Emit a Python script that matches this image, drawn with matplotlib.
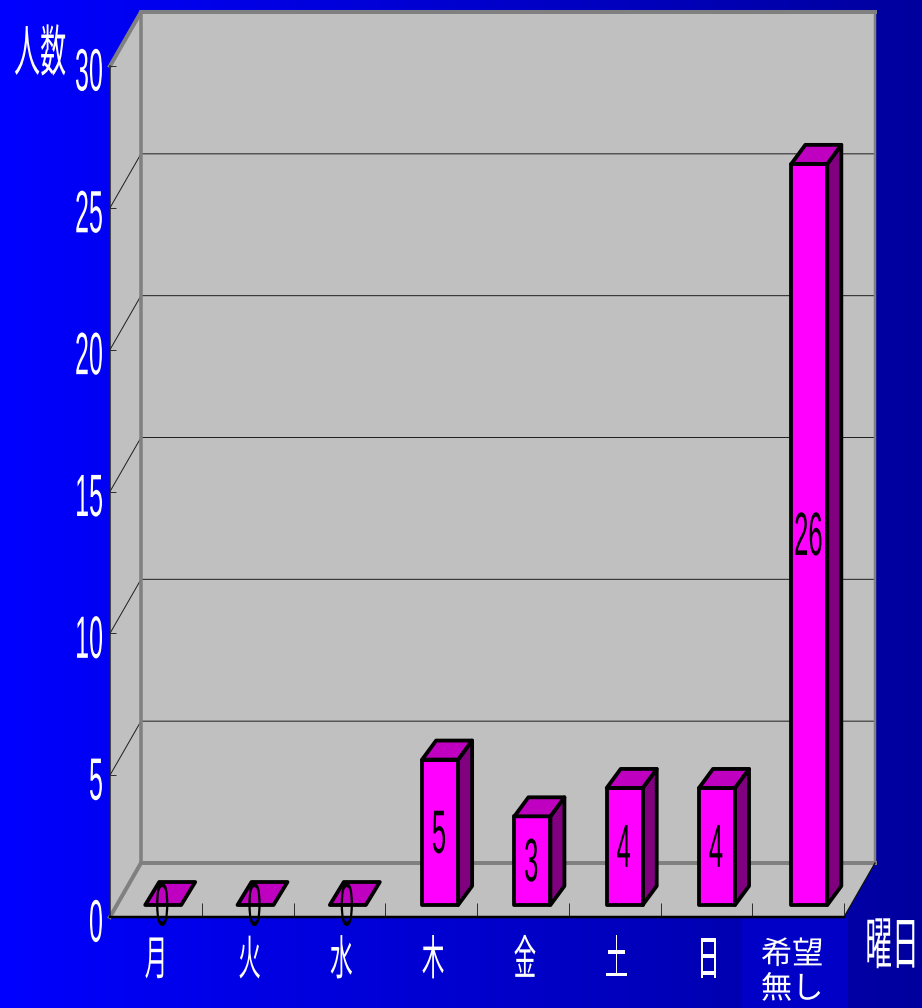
import numpy as np
import matplotlib
matplotlib.use("Agg")
import matplotlib.pyplot as plt
from matplotlib.patches import Polygon, Rectangle
from matplotlib.patheffects import AbstractPathEffect
from matplotlib.transforms import Affine2D

categories = ["月", "火", "水", "木", "金", "土", "日", "希望\n無し"]
values = [0, 0, 0, 5, 3, 4, 4, 26]
y_ticks = [0, 5, 10, 15, 20, 25, 30]

W, H = 922, 1008
FONT = ["Liberation Sans", "Noto Sans CJK JP", "DejaVu Sans"]
WALL = "#c0c0c0"
EDGE = "#808080"


class Condensed(AbstractPathEffect):
    """Squeeze real text horizontally, as the original's stretched labels are."""

    def __init__(self, sx=1.0, anchor=0.5, dx=0.0, dy=0.0):
        super().__init__()
        self.sx, self.anchor, self.dx, self.dy = sx, anchor, dx, dy

    def draw_path(self, renderer, gc, tpath, affine, rgbFace=None):
        ext = affine.transform_path(tpath).get_extents()
        cx = ext.x0 + self.anchor * ext.width
        aff = affine + Affine2D().translate(-cx, 0).scale(self.sx, 1).translate(cx + self.dx, self.dy)
        renderer.draw_path(gc, tpath, aff, rgbFace)


fig = plt.figure(figsize=(W / 100, H / 100), dpi=100)

# background gradient
bg = fig.add_axes([0, 0, 1, 1], zorder=-1)
bg.axis("off")
grad = np.zeros((2, 256, 3))
grad[:, :, 2] = np.linspace(1.0, 0.62, 256)
bg.imshow(grad, aspect="auto", extent=[0, 1, 0, 1], interpolation="bilinear")
bg.add_patch(Rectangle((742 / W, 0), 106 / W, 91 / H, color="#0000c6", lw=0))
bg.set_xlim(0, 1)
bg.set_ylim(0, 1)

# front plane of the 3-D chart box
L, R, T, B = 110, 844, 66, 917
ax = fig.add_axes([L / W, 1 - B / H, (R - L) / W, (B - T) / H])
ax.patch.set_visible(False)
ax.set_xlim(0, len(categories))
ax.set_ylim(0, 30)
ux = (R - L) / len(categories)   # pixels per category
uy = (B - T) / 30                # pixels per value unit
px = 0.72                        # points per pixel at dpi 100

DX, DY = 31 / ux, 54 / uy
n = len(categories)

# walls
ax.add_patch(Polygon([(0, 0), (0, 30), (DX, 30 + DY), (n + DX, 30 + DY), (n + DX, DY), (n, 0)],
                     closed=True, fc=WALL, ec="none", clip_on=False, zorder=1))
# gridlines
for v in y_ticks[1:-1]:
    ax.plot([0, DX, n + DX], [v, v + DY, v + DY], color="#202020", lw=1 * px, clip_on=False, zorder=1.2)
# box edges
ax.plot([DX, DX], [DY, 30 + DY], color=EDGE, lw=3.5 * px, clip_on=False, zorder=1.3)
ax.plot([0, DX, n + DX], [30, 30 + DY, 30 + DY], color=EDGE, lw=4 * px, clip_on=False, zorder=1.3, solid_joinstyle="miter")
ax.plot([n + DX, n + DX], [DY, 30 + DY], color=EDGE, lw=2.5 * px, clip_on=False, zorder=1.3)
ax.plot([0, DX, n + DX], [0, DY, DY], color=EDGE, lw=4 * px, clip_on=False, zorder=1.3, solid_joinstyle="miter")
ax.plot([n, n + DX], [0, DY], color="#101010", lw=1.2 * px, clip_on=False, zorder=1.3)

# bars
BASE = 12 / uy          # bar foot sits slightly behind the front plane
LIFT = 0.55
FIRST = 0.58            # centre of the first bar, in categories
PITCH = 1.006           # bar spacing, in categories
HALF = 18 / ux
BDX = 14 / ux
for i, v in enumerate(values):
    c = FIRST + PITCH * i
    x0, x1 = c - HALF, c + HALF
    top = v + LIFT if v > 0 else BASE
    bdy = (19 if v > 0 else 23) / uy
    style = dict(ec="black", lw=3.8 * px, joinstyle="round", clip_on=False, zorder=4)
    if v > 0:
        ax.add_patch(Polygon([(x1, BASE), (x1 + BDX, BASE + bdy), (x1 + BDX, top + bdy), (x1, top)],
                             fc="#800080", **style))
        ax.add_patch(Rectangle((x0, BASE), x1 - x0, top - BASE, fc="#ff00ff", **style))
    ax.add_patch(Polygon([(x0, top), (x0 + BDX, top + bdy), (x1 + BDX, top + bdy), (x1, top)],
                         fc="#c000c0", **style))
    t = ax.text(c, (BASE + top) / 2, str(v), ha="center", va="center", color="black",
                fontsize=44, family=FONT, clip_on=False, zorder=6)
    t.set_path_effects([Condensed(0.42, dx=-1, dy=-5)])

# axes
for s in ("top", "right"):
    ax.spines[s].set_visible(False)
ax.spines["left"].set_color("#202020")
ax.spines["left"].set_linewidth(1.5 * px)
ax.spines["left"].set_zorder(2)
ax.spines["bottom"].set_color("black")
ax.spines["bottom"].set_linewidth(2.5 * px)
ax.spines["bottom"].set_zorder(2)

ax.set_yticks(y_ticks)
ax.set_yticklabels([str(v) for v in y_ticks], fontsize=43, family=FONT, color="white")
ax.tick_params(axis="y", direction="in", length=6 * px, width=1 * px, color="#303030", pad=4)
for lab in ax.get_yticklabels():
    lab.set_path_effects([Condensed(0.42, anchor=1.0, dy=-3)])

ax.set_xticks(np.arange(1, n + 1))
ax.set_xticklabels([])
ax.tick_params(axis="x", which="major", direction="in", length=14 * px, width=1 * px, color="#303030")
ax.set_xticks(np.arange(n) + 0.5, labels=categories, minor=True)
ax.tick_params(axis="x", which="minor", length=0, pad=17, colors="white")
for lab, name in zip(ax.get_xticklabels(minor=True), categories):
    lab.set_family(FONT)
    lab.set_color("white")
    if "\n" in name:
        lab.set_fontsize(22.5)
        lab.set_linespacing(1.2)
        lab.set_path_effects([Condensed(1.0, dx=-6, dy=0)])
    else:
        lab.set_fontsize(34)
        lab.set_path_effects([Condensed(0.48, dx=2)])

ax.set_ylabel("人数", rotation=0, ha="left", va="center", fontsize=40, family=FONT, color="white")
ax.yaxis.set_label_coords((13 - L) / (R - L), (B - 52) / (B - T))
ax.yaxis.label.set_path_effects([Condensed(0.47, anchor=0.0, dy=-5)])
ax.set_xlabel("曜日", ha="right", va="center", fontsize=41, family=FONT, color="white")
ax.xaxis.set_label_coords((917 - L) / (R - L), (B - 943) / (B - T))
ax.xaxis.label.set_path_effects([Condensed(0.47, anchor=1.0, dx=7, dy=-6)])

fig.savefig("out.png", dpi=100)
